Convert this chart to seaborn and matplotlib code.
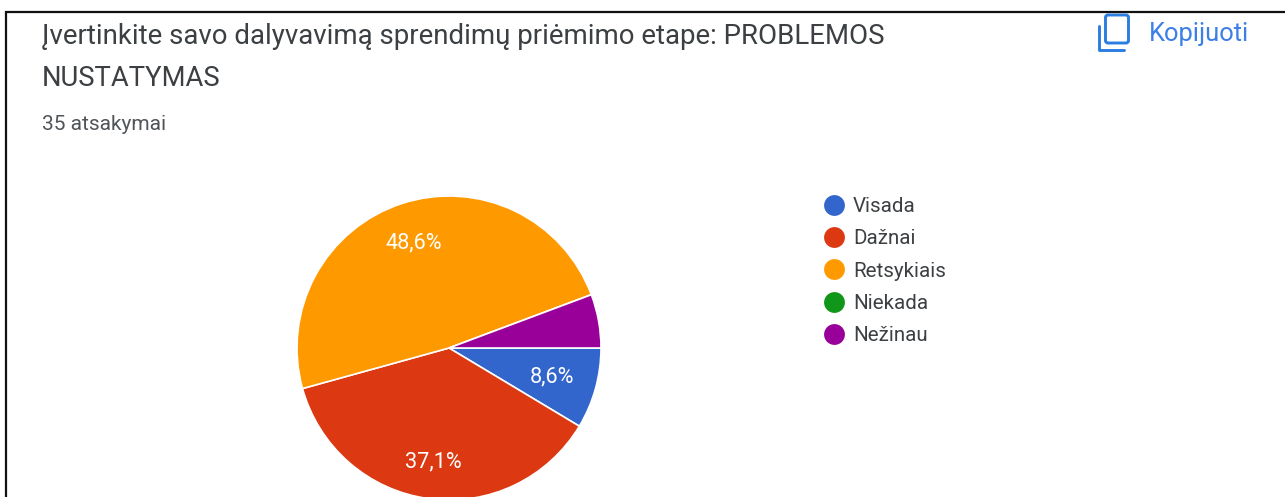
import matplotlib
matplotlib.use('Agg')
import matplotlib.pyplot as plt
import seaborn as sns
from matplotlib.lines import Line2D
from matplotlib.patches import FancyBboxPatch

categories = ['Visada', 'Dažnai', 'Retsykiais', 'Niekada', 'Nežinau']
values = [8.6, 37.1, 48.6, 0.0, 5.7]
pct_labels = ['8,6%', '37,1%', '48,6%', '', '']
hex_colors = ['#3366cc', '#dc3912', '#ff9900', '#109618', '#990099']
title_lines = ['Įvertinkite savo dalyvavimą sprendimų priėmimo etape: PROBLEMOS', 'NUSTATYMAS']
subtitle = '35 atsakymai'
copy_label = 'Kopijuoti'

W, H = 1285, 497

sns.set_theme(style='white')
plt.rcParams['font.family'] = ['Roboto', 'DejaVu Sans']
palette = sns.color_palette(hex_colors)

fig = plt.figure(figsize=(W / 100, H / 100), dpi=100, facecolor='white')

# Overlay in pixel coordinates for the card frame, heading and icon
bg = fig.add_axes([0, 0, 1, 1])
bg.set_xlim(0, W)
bg.set_ylim(H, 0)
bg.axis('off')

# Card frame
bg.plot([6, 6, W], [H, 11.5, 11.5], color='#111111', lw=1.6, solid_joinstyle='miter')

bg.text(42, 36.5, title_lines[0], fontsize=19.9, color='#3c4043', va='center', ha='left')
bg.text(42, 79, title_lines[1], fontsize=19.7, color='#3c4043', va='center', ha='left')
bg.text(42, 124, subtitle, fontsize=15, color='#50555a', va='center', ha='left')

# Copy icon
blue = '#2a7de1'
bg.add_patch(FancyBboxPatch((1105.5, 15), 23, 28, boxstyle='round,pad=0,rounding_size=2.5',
                            fill=False, ec=blue, lw=2.1))
bg.plot([1098.5, 1098.5, 1124], [25.5, 49.5, 49.5], color=blue, lw=2.1, solid_capstyle='round',
        solid_joinstyle='round')
bg.text(1149, 33.5, copy_label, fontsize=18.4, color='#3c7fe6', va='center', ha='left')

# Pie, centre (449, 348) radius 152 px; runs off the bottom edge
cx, cy, r = 449, 348, 152
ax = fig.add_axes([(cx - r) / W, (H - cy - r) / H, 2 * r / W, 2 * r / H])
wedges, _ = ax.pie(values, colors=palette, startangle=0, counterclock=False, radius=1,
                   wedgeprops=dict(edgecolor='white', linewidth=1.2), normalize=True)
for w in wedges:
    w.set_clip_on(False)
ax.set_xlim(-1, 1)
ax.set_ylim(-1, 1)
ax.set_aspect('equal')

# Percent labels
bg.set_zorder(ax.get_zorder() + 1)
bg.patch.set_visible(False)
label_pos = [(552, 377), (433, 462), (414, 243)]
for (x, y), txt in zip(label_pos, pct_labels[:3]):
    bg.text(x, y, txt, color='white', fontsize=15.6, ha='center', va='center')

# Legend
handles = [Line2D([], [], marker='o', ls='', ms=15, mfc=c, mec=c, mew=0) for c in palette]
leg = fig.legend(handles, categories, loc='upper left', bbox_to_anchor=(821 / W, 1 - 197 / H),
                 bbox_transform=fig.transFigure, frameon=False, fontsize=14.8, labelspacing=0.645,
                 handletextpad=0.29, handlelength=1.27, borderpad=0, borderaxespad=0,
                 labelcolor='#3c4043')

fig.savefig('out.png', dpi=100, facecolor='white')
